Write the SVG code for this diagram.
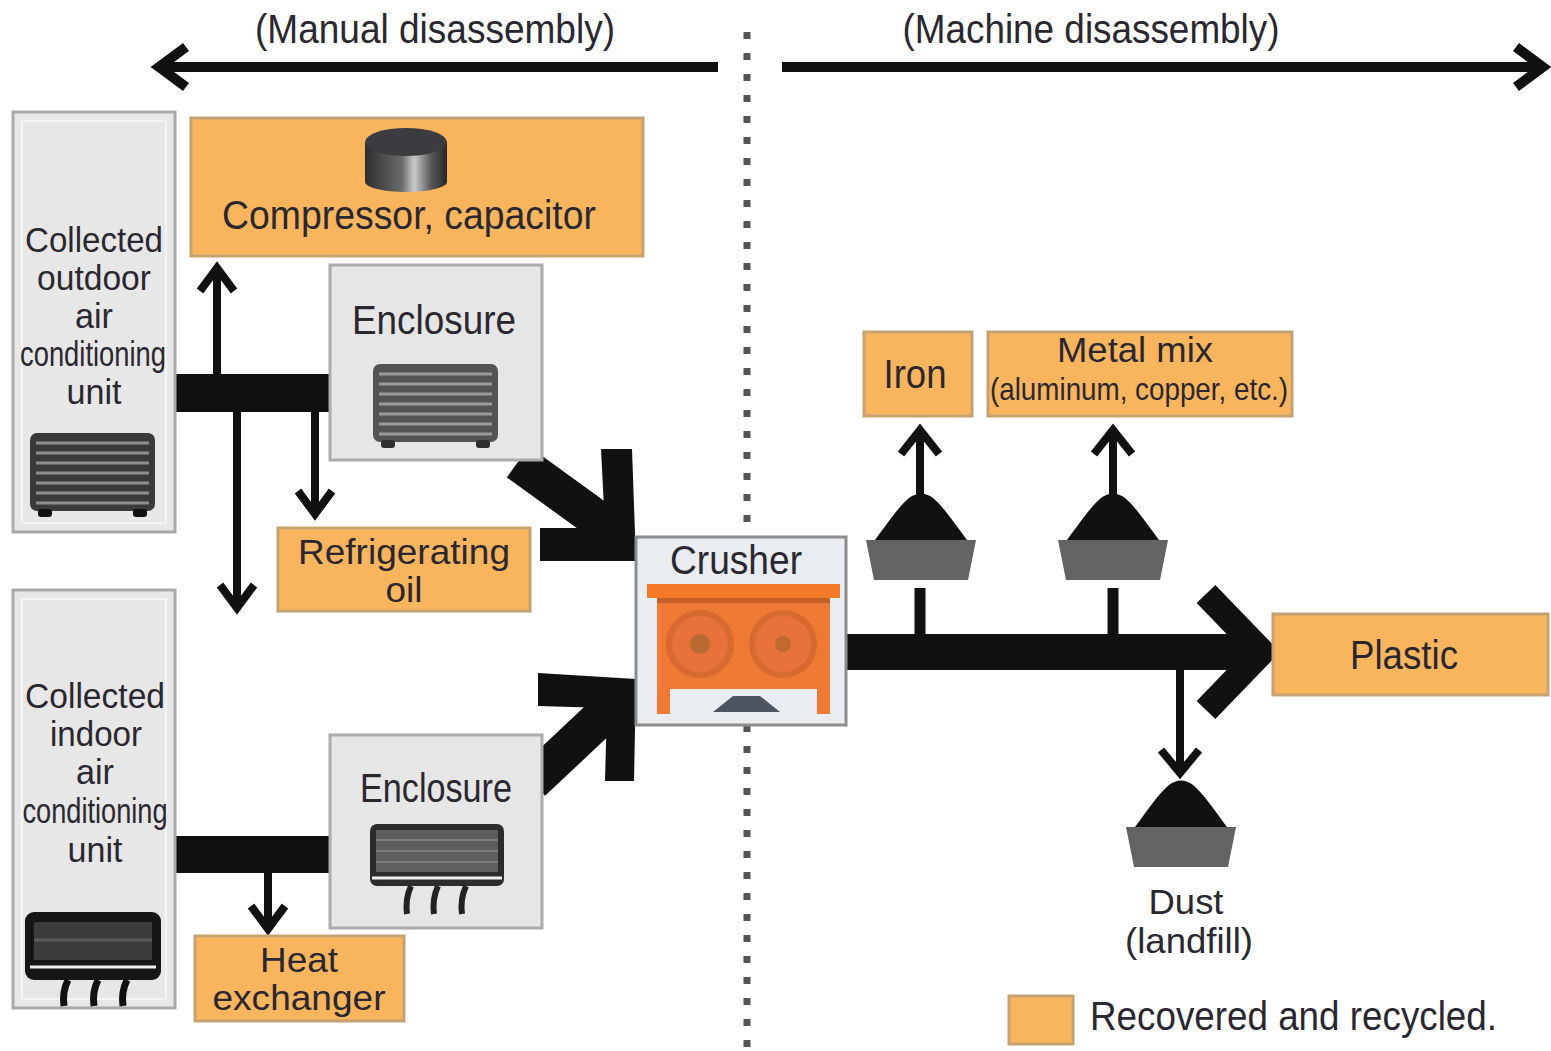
<svg xmlns="http://www.w3.org/2000/svg" width="1551" height="1051" viewBox="0 0 1551 1051">
  <defs>
    <style>
      .t { font-family: "Liberation Sans", Arial, sans-serif; font-size: 40px; fill: #2b2730; text-anchor: middle; }
      .stack { font-size: 35px; }
      .small { font-size: 32px; }
      .unit { fill: #e7e7e7; stroke: #a9a9a9; stroke-width: 3; }
      .inner { fill: none; stroke: #f4f4f4; stroke-width: 2; }
      .encl { fill: #e6e6e6; stroke: #ababab; stroke-width: 3; }
      .rec { fill: #f8b55e; stroke: #c6a272; stroke-width: 3; }
      .thin { fill: none; stroke: #111; stroke-width: 8; }
      .head { fill: none; stroke: #111; stroke-width: 8; stroke-linejoin: miter; stroke-linecap: butt; }
      .bar { fill: #111; }
    </style>
    <linearGradient id="cyl" x1="0" y1="0" x2="1" y2="0">
      <stop offset="0" stop-color="#2e2e2e"/>
      <stop offset="0.45" stop-color="#6a6a6a"/>
      <stop offset="0.6" stop-color="#c9c9cc"/>
      <stop offset="0.8" stop-color="#5a5a5a"/>
      <stop offset="1" stop-color="#262626"/>
    </linearGradient>
    <!-- heap of sorted material in a tray -->
    <g id="tray">
      <path d="M-46,48 C-34,32 -22,14 -12,6 Q0,-3 12,6 C22,14 34,32 46,48 Z" fill="#111"/>
      <path d="M-55,48 L55,48 L47,88 L-47,88 Z" fill="#636363"/>
    </g>
    <!-- outdoor unit: striped cabinet on feet -->
    <g id="outdoor">
      <rect x="0" y="0" width="125" height="78" rx="7" fill="#3a3a3a"/>
      <g stroke="#8e8e8e" stroke-width="3">
        <line x1="6" y1="10" x2="119" y2="10"/>
        <line x1="6" y1="20" x2="119" y2="20"/>
        <line x1="6" y1="30" x2="119" y2="30"/>
        <line x1="6" y1="40" x2="119" y2="40"/>
        <line x1="6" y1="50" x2="119" y2="50"/>
        <line x1="6" y1="60" x2="119" y2="60"/>
        <line x1="6" y1="70" x2="119" y2="70"/>
      </g>
      <rect x="8" y="76" width="14" height="8" rx="3" fill="#111"/>
      <rect x="103" y="76" width="14" height="8" rx="3" fill="#111"/>
    </g>
  </defs>

  <rect width="1551" height="1051" fill="#ffffff"/>

  <!-- divider between manual and machine stages -->
  <line x1="747" y1="32" x2="747" y2="1051" stroke="#555" stroke-width="7" stroke-dasharray="7 14"/>

  <!-- stage headings -->
  <g id="stage-labels">
    <text class="t" x="435" y="43" textLength="360" lengthAdjust="spacingAndGlyphs">(Manual disassembly)</text>
    <text class="t" x="1091" y="43" textLength="377" lengthAdjust="spacingAndGlyphs">(Machine disassembly)</text>
    <line x1="160" y1="67" x2="718" y2="67" stroke="#111" stroke-width="10"/>
    <polyline points="186,47 159,67 186,87" fill="none" stroke="#111" stroke-width="10"/>
    <line x1="782" y1="67" x2="1542" y2="67" stroke="#111" stroke-width="10"/>
    <polyline points="1516,47 1543,67 1516,87" fill="none" stroke="#111" stroke-width="10"/>
  </g>

  <!-- connectors -->
  <g id="connectors">
    <!-- outdoor unit split -->
    <rect class="bar" x="174" y="374" width="157" height="38"/>
    <line class="thin" x1="217" y1="376" x2="217" y2="268"/>
    <polyline class="head" points="200,291 217,268 234,291"/>
    <line class="thin" x1="237" y1="410" x2="237" y2="606"/>
    <polyline class="head" points="220,585 237,608 254,585"/>
    <line class="thin" x1="315" y1="410" x2="315" y2="512"/>
    <polyline class="head" points="298,491 315,514 332,491"/>
    <!-- indoor unit split -->
    <rect class="bar" x="174" y="836" width="157" height="37"/>
    <line class="thin" x1="268" y1="871" x2="268" y2="927"/>
    <polyline class="head" points="251,906 268,929 285,906"/>
    <!-- enclosures to crusher -->
    <line x1="518" y1="462" x2="612" y2="530" stroke="#111" stroke-width="38"/>
    <path d="M601,449 L632,449 L636,561 L540,561 L540,528 L605,528 Z" fill="#111"/>
    <line x1="532" y1="782" x2="615" y2="704" stroke="#111" stroke-width="38"/>
    <path d="M538,673 L636,679 L634,781 L605,781 L607,708 L538,706 Z" fill="#111"/>
    <!-- crusher output to plastic -->
    <rect class="bar" x="846" y="634" width="400" height="36"/>
    <polyline points="1206,594 1262,652 1206,710" fill="none" stroke="#111" stroke-width="26" stroke-linejoin="round"/>
    <!-- branches to sorted trays -->
    <line x1="920" y1="588" x2="920" y2="640" stroke="#111" stroke-width="11"/>
    <line x1="1113" y1="588" x2="1113" y2="640" stroke="#111" stroke-width="11"/>
    <line class="thin" x1="920" y1="494" x2="920" y2="432"/>
    <polyline class="head" points="901,454 920,430 939,454"/>
    <line class="thin" x1="1113" y1="494" x2="1113" y2="432"/>
    <polyline class="head" points="1094,454 1113,430 1132,454"/>
    <line class="thin" x1="1180" y1="668" x2="1180" y2="770"/>
    <polyline class="head" points="1161,750 1180,773 1199,750"/>
  </g>

  <!-- collected outdoor unit -->
  <g id="outdoor-unit">
    <rect class="unit" x="13" y="112" width="162" height="420"/>
    <rect class="inner" x="22" y="121" width="144" height="402"/>
    <text class="t stack" x="94" y="252" textLength="138" lengthAdjust="spacingAndGlyphs">Collected</text>
    <text class="t stack" x="94" y="290" textLength="114" lengthAdjust="spacingAndGlyphs">outdoor</text>
    <text class="t stack" x="94" y="328" textLength="38" lengthAdjust="spacingAndGlyphs">air</text>
    <text class="t stack" x="93" y="366" textLength="146" lengthAdjust="spacingAndGlyphs">conditioning</text>
    <text class="t stack" x="94" y="404" textLength="55" lengthAdjust="spacingAndGlyphs">unit</text>
    <use href="#outdoor" x="30" y="433"/>
  </g>

  <!-- compressor, capacitor -->
  <g id="compressor">
    <rect class="rec" x="191" y="118" width="452" height="138"/>
    <rect x="365" y="142" width="82" height="40" fill="url(#cyl)"/>
    <ellipse cx="406" cy="182" rx="41" ry="10" fill="url(#cyl)"/>
    <ellipse cx="406" cy="142" rx="41" ry="14" fill="#3b3b40"/>
    <text class="t" x="409" y="229" textLength="374" lengthAdjust="spacingAndGlyphs">Compressor, capacitor</text>
  </g>

  <!-- outdoor enclosure -->
  <g id="enclosure-outdoor">
    <rect class="encl" x="330" y="265" width="212" height="195"/>
    <text class="t" x="434" y="334" textLength="164" lengthAdjust="spacingAndGlyphs">Enclosure</text>
    <use href="#outdoor" x="373" y="364" opacity="0.85"/>
  </g>

  <!-- refrigerating oil -->
  <g id="refrigerating-oil">
    <rect class="rec" x="278" y="528" width="252" height="83"/>
    <text class="t stack" x="404" y="564" textLength="212" lengthAdjust="spacingAndGlyphs">Refrigerating</text>
    <text class="t stack" x="404" y="602" textLength="37" lengthAdjust="spacingAndGlyphs">oil</text>
  </g>

  <!-- collected indoor unit -->
  <g id="indoor-unit">
    <rect class="unit" x="13" y="590" width="162" height="418"/>
    <rect class="inner" x="22" y="599" width="144" height="400"/>
    <text class="t stack" x="95" y="708" textLength="140" lengthAdjust="spacingAndGlyphs">Collected</text>
    <text class="t stack" x="96" y="746" textLength="92" lengthAdjust="spacingAndGlyphs">indoor</text>
    <text class="t stack" x="95" y="784" textLength="38" lengthAdjust="spacingAndGlyphs">air</text>
    <text class="t stack" x="95" y="823" textLength="145" lengthAdjust="spacingAndGlyphs">conditioning</text>
    <text class="t stack" x="95" y="862" textLength="55" lengthAdjust="spacingAndGlyphs">unit</text>
    <rect x="25" y="912" width="136" height="68" rx="9" fill="#161616"/>
    <rect x="34" y="922" width="118" height="38" fill="#3c3c3c"/>
    <line x1="34" y1="940" x2="152" y2="940" stroke="#5a5a5a" stroke-width="3"/>
    <line x1="30" y1="967" x2="156" y2="967" stroke="#f0f0f0" stroke-width="3"/>
    <g fill="none" stroke="#111" stroke-width="7">
      <path d="M68,980 Q62,992 64,1006"/>
      <path d="M98,980 Q92,992 94,1006"/>
      <path d="M127,980 Q121,992 123,1006"/>
    </g>
  </g>

  <!-- indoor enclosure -->
  <g id="enclosure-indoor">
    <rect class="encl" x="330" y="735" width="212" height="193"/>
    <text class="t" x="436" y="802" textLength="152" lengthAdjust="spacingAndGlyphs">Enclosure</text>
    <rect x="370" y="824" width="134" height="62" rx="7" fill="#2c2c2c"/>
    <rect x="376" y="830" width="122" height="42" fill="#5e5e5e"/>
    <g stroke="#7c7c7c" stroke-width="2">
      <line x1="376" y1="840" x2="498" y2="840"/>
      <line x1="376" y1="851" x2="498" y2="851"/>
      <line x1="376" y1="862" x2="498" y2="862"/>
    </g>
    <line x1="372" y1="878" x2="502" y2="878" stroke="#f0f0f0" stroke-width="3"/>
    <g fill="none" stroke="#222" stroke-width="6">
      <path d="M411,886 Q405,899 407,914"/>
      <path d="M438,886 Q432,899 434,914"/>
      <path d="M466,886 Q460,899 462,914"/>
    </g>
  </g>

  <!-- heat exchanger -->
  <g id="heat-exchanger">
    <rect class="rec" x="195" y="936" width="209" height="85"/>
    <text class="t stack" x="299" y="972" textLength="78" lengthAdjust="spacingAndGlyphs">Heat</text>
    <text class="t stack" x="299" y="1010" textLength="173" lengthAdjust="spacingAndGlyphs">exchanger</text>
  </g>

  <!-- crusher -->
  <g id="crusher">
    <rect x="636" y="537" width="210" height="188" fill="#e9ecf0" stroke="#8c8c8c" stroke-width="3"/>
    <text class="t" x="736" y="574" textLength="132" lengthAdjust="spacingAndGlyphs">Crusher</text>
    <rect x="657" y="597" width="173" height="92" fill="#ee7a35"/>
    <rect x="657" y="689" width="13" height="25" fill="#ee7a35"/>
    <rect x="817" y="689" width="13" height="25" fill="#ee7a35"/>
    <rect x="647" y="584" width="193" height="14" fill="#f27a28"/>
    <rect x="657" y="598" width="173" height="5" fill="#c4602a"/>
    <circle cx="700" cy="644" r="31" fill="#e8733a" stroke="#d86a30" stroke-width="6"/>
    <circle cx="783" cy="644" r="31" fill="#e8733a" stroke="#d86a30" stroke-width="6"/>
    <circle cx="700" cy="644" r="10" fill="#b86a30"/>
    <circle cx="783" cy="644" r="8" fill="#c06a30"/>
    <path d="M713,712 L733,696 L760,696 L780,712 Z" fill="#4d5560"/>
  </g>

  <!-- iron -->
  <g id="iron">
    <rect class="rec" x="864" y="332" width="108" height="84"/>
    <text class="t" x="915" y="388" textLength="63" lengthAdjust="spacingAndGlyphs">Iron</text>
    <use href="#tray" x="921" y="492"/>
  </g>

  <!-- metal mix -->
  <g id="metal-mix">
    <rect class="rec" x="988" y="332" width="304" height="84"/>
    <text class="t stack" x="1135" y="362" textLength="156" lengthAdjust="spacingAndGlyphs">Metal mix</text>
    <text class="t small" x="1139" y="400" textLength="298" lengthAdjust="spacingAndGlyphs">(aluminum, copper, etc.)</text>
    <use href="#tray" x="1113" y="492"/>
  </g>

  <!-- plastic -->
  <g id="plastic">
    <rect class="rec" x="1273" y="614" width="275" height="81"/>
    <text class="t" x="1404" y="669" textLength="108" lengthAdjust="spacingAndGlyphs">Plastic</text>
  </g>

  <!-- dust -->
  <g id="dust">
    <use href="#tray" x="1181" y="779"/>
    <text class="t stack" x="1186" y="914" textLength="75" lengthAdjust="spacingAndGlyphs">Dust</text>
    <text class="t stack" x="1189" y="953" textLength="128" lengthAdjust="spacingAndGlyphs">(landfill)</text>
  </g>

  <!-- legend -->
  <g id="legend">
    <rect class="rec" x="1009" y="996" width="64" height="48"/>
    <text class="t" x="1090" y="1030" font-size="38" style="text-anchor:start" textLength="407" lengthAdjust="spacingAndGlyphs">Recovered and recycled.</text>
  </g>
</svg>
